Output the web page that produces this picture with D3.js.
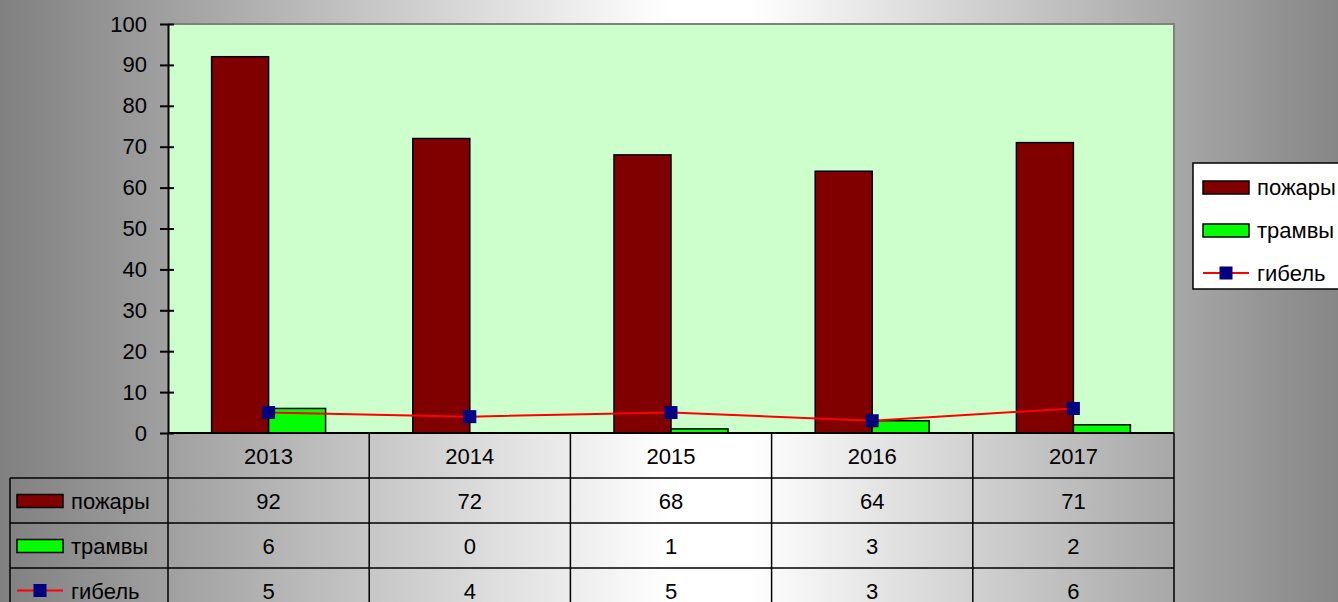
<!DOCTYPE html>
<html>
<head>
<meta charset="utf-8">
<script src="https://cdn.jsdelivr.net/npm/d3@7"></script>
<style>
  html, body { margin: 0; padding: 0; }
  svg { display: block; font-family: "Liberation Sans", Arial, sans-serif; }
</style>
</head>
<body>
<div id="display"></div>
<script>
// chart data
const years = ['2013', '2014', '2015', '2016', '2017'];
const seriesNames = ['пожары', 'трамвы', 'гибель'];
const fires = [92, 72, 68, 64, 71];
const trams = [6, 0, 1, 3, 2];
const deaths = [5, 4, 5, 3, 6];
const yTicks = [0, 10, 20, 30, 40, 50, 60, 70, 80, 90, 100];

const W = 1338, H = 602;
const plot = {left: 168, top: 24, right: 1174, bottom: 433};
const rowH = 45;
const fontSize = 22;

const svg = d3.select('#display')
    .append('svg')
    .attr('width', W)
    .attr('height', H);

// background gradient grey - white - grey
const defs = svg.append('defs');
const grad = defs.append('linearGradient')
    .attr('id', 'bg')
    .attr('x1', '0%').attr('x2', '100%')
    .attr('y1', '0%').attr('y2', '0%');
grad.append('stop').attr('offset', '0%').attr('stop-color', '#808080');
grad.append('stop').attr('offset', '50%').attr('stop-color', '#ffffff');
grad.append('stop').attr('offset', '56%').attr('stop-color', '#ffffff');
grad.append('stop').attr('offset', '100%').attr('stop-color', '#868686');

svg.append('rect')
    .attr('width', W).attr('height', H)
    .attr('fill', 'url(#bg)');

// scales
const x = d3.scaleBand()
    .domain(years)
    .range([plot.left, plot.right])
    .padding(0);

const groupW = 114;
const xInner = d3.scaleBand()
    .domain(['fires', 'trams'])
    .range([0, groupW]);

const y = d3.scaleLinear()
    .domain([0, 100])
    .range([plot.bottom, plot.top]);

// plot area
svg.append('rect')
    .attr('x', plot.left).attr('y', plot.top)
    .attr('width', plot.right - plot.left)
    .attr('height', plot.bottom - plot.top)
    .attr('fill', '#ccffcc');
svg.append('path')
    .attr('d', `M${plot.left},${plot.top}H${plot.right}V${plot.bottom}`)
    .attr('fill', 'none')
    .attr('stroke', '#808080')
    .attr('stroke-width', 2);

// bars
const barData = [
    {key: 'fires', values: fires, color: '#800000'},
    {key: 'trams', values: trams, color: '#00ff00'}
];
barData.forEach(s => {
    svg.append('g')
        .selectAll('rect')
        .data(s.values)
        .join('rect')
            .attr('x', (d, i) => x(years[i]) + (x.bandwidth() - groupW) / 2 + xInner(s.key))
            .attr('y', d => y(d))
            .attr('width', xInner.bandwidth())
            .attr('height', d => y(0) - y(d))
            .attr('fill', s.color)
            .attr('stroke', '#000')
            .attr('stroke-width', 1.5);
});

// y axis
const yAxis = svg.append('g')
    .attr('transform', `translate(${plot.left},0)`)
    .call(d3.axisLeft(y).tickValues(yTicks).tickSize(0).tickPadding(21));
yAxis.select('.domain').attr('stroke', '#000').attr('stroke-width', 2);
yAxis.selectAll('.tick text')
    .attr('font-size', fontSize)
    .attr('font-family', '"Liberation Sans", Arial, sans-serif')
    .attr('fill', '#000');
yAxis.selectAll('.tick')
    .append('line')
    .attr('x1', -8).attr('x2', 6)
    .attr('stroke', '#000').attr('stroke-width', 2);

// line series
const line = d3.line()
    .x((d, i) => x(years[i]) + x.bandwidth() / 2)
    .y(d => y(d));
svg.append('path')
    .datum(deaths)
    .attr('d', line)
    .attr('fill', 'none')
    .attr('stroke', '#ff0000')
    .attr('stroke-width', 2);
svg.append('g')
    .selectAll('rect')
    .data(deaths)
    .join('rect')
        .attr('x', (d, i) => x(years[i]) + x.bandwidth() / 2 - 6.5)
        .attr('y', d => y(d) - 6.5)
        .attr('width', 13).attr('height', 13)
        .attr('fill', '#000080');

// bottom axis line
svg.append('line')
    .attr('x1', plot.left).attr('x2', plot.right)
    .attr('y1', plot.bottom).attr('y2', plot.bottom)
    .attr('stroke', '#000').attr('stroke-width', 2);

// legend key drawing helper
function drawKey(g, idx, cx, cy) {
    if (idx < 2) {
        g.append('rect')
            .attr('x', cx - 23).attr('y', cy - 6)
            .attr('width', 46).attr('height', 13)
            .attr('fill', barData[idx].color)
            .attr('stroke', '#000').attr('stroke-width', 1.5);
    } else {
        g.append('line')
            .attr('x1', cx - 23).attr('x2', cx + 23)
            .attr('y1', cy).attr('y2', cy)
            .attr('stroke', '#ff0000').attr('stroke-width', 2);
        g.append('rect')
            .attr('x', cx - 6.5).attr('y', cy - 6.5)
            .attr('width', 13).attr('height', 13)
            .attr('fill', '#000080');
    }
}

// data table
const table = svg.append('g');
const tableLeft = 10;
const rows = [fires, trams, deaths];

// header row with years
table.selectAll('text.year')
    .data(years)
    .join('text')
        .attr('class', 'year')
        .attr('x', d => x(d) + x.bandwidth() / 2)
        .attr('y', plot.bottom + rowH / 2 + 8)
        .attr('text-anchor', 'middle')
        .attr('font-size', fontSize)
        .text(d => d);

rows.forEach((vals, r) => {
    const top = plot.bottom + rowH * (r + 1);
    const cy = top + rowH / 2;
    table.selectAll(null)
        .data(vals)
        .join('text')
            .attr('x', (d, i) => x(years[i]) + x.bandwidth() / 2)
            .attr('y', cy + 8)
            .attr('text-anchor', 'middle')
            .attr('font-size', fontSize)
            .text(d => d);
    drawKey(table, r, 40, cy);
    table.append('text')
        .attr('x', 71).attr('y', cy + 8)
        .attr('font-size', fontSize)
        .text(seriesNames[r]);
});

// table grid lines
const gridColor = '#000';
for (let r = 1; r <= 4; r++) {
    const yy = plot.bottom + rowH * r;
    table.append('line')
        .attr('x1', tableLeft).attr('x2', plot.right)
        .attr('y1', yy).attr('y2', yy)
        .attr('stroke', gridColor).attr('stroke-width', 1.5);
}
const colEdges = years.map(d => x(d)).concat([plot.right]);
colEdges.forEach(cx => {
    table.append('line')
        .attr('x1', cx).attr('x2', cx)
        .attr('y1', plot.bottom).attr('y2', H + 20)
        .attr('stroke', gridColor).attr('stroke-width', 1.5);
});
table.append('line')
    .attr('x1', tableLeft).attr('x2', tableLeft)
    .attr('y1', plot.bottom + rowH).attr('y2', H + 20)
    .attr('stroke', gridColor).attr('stroke-width', 1.5);

// legend
const legend = svg.append('g');
legend.append('rect')
    .attr('x', 1193).attr('y', 163)
    .attr('width', 160).attr('height', 126)
    .attr('fill', '#fff')
    .attr('stroke', '#000').attr('stroke-width', 1.5);
seriesNames.forEach((name, i) => {
    const cy = 187 + i * 43;
    drawKey(legend, i, 1226, cy);
    legend.append('text')
        .attr('x', 1257).attr('y', cy + 8)
        .attr('font-size', fontSize)
        .text(name);
});
</script>
</body>
</html>
